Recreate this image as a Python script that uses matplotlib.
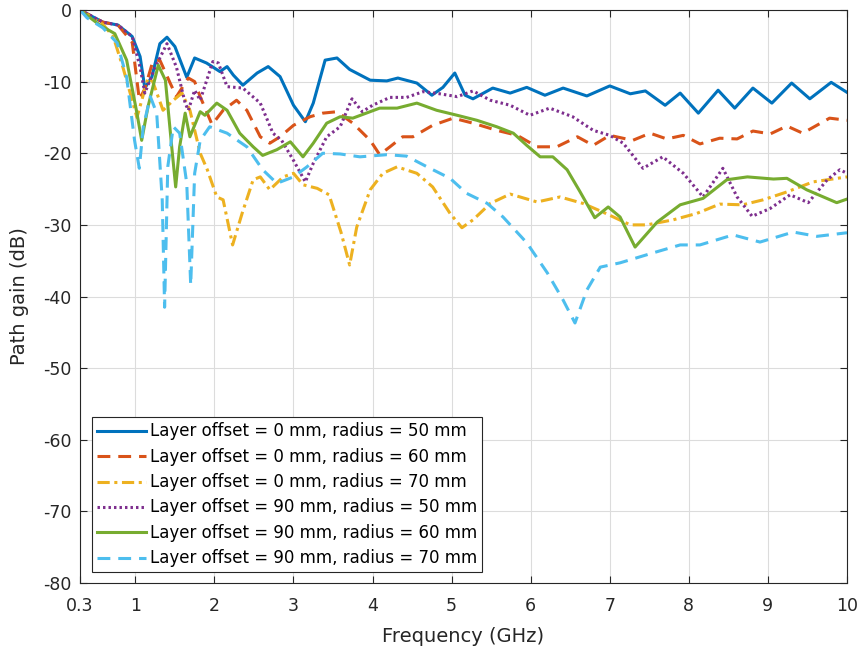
import matplotlib.pyplot as plt

plt.rcParams['font.family'] = ['DejaVu Sans']

# offset 0 mm, radius 50 mm
f_a = [0.3, 0.59, 0.78, 0.96, 1.06, 1.12, 1.21, 1.31, 1.4, 1.5, 1.65, 1.75, 1.9, 2.07, 2.16, 2.24,
       2.36, 2.54, 2.68, 2.83, 3.0, 3.15, 3.25, 3.4, 3.55, 3.71, 3.97, 4.18, 4.32, 4.56, 4.75, 4.89,
       5.04, 5.17, 5.27, 5.52, 5.74, 5.95, 6.18, 6.41, 6.71, 7.0, 7.26, 7.45, 7.7, 7.89, 8.12, 8.37,
       8.58, 8.81, 9.05, 9.3, 9.53, 9.8, 10.0]
g_a = [0, -1.7, -2.1, -3.7, -6.5, -10.9, -9.3, -4.7, -3.8, -5.1, -9.4, -6.7, -7.4, -8.6, -7.9, -9.1,
       -10.5, -8.8, -7.9, -9.3, -13.3, -15.6, -13.0, -7.0, -6.7, -8.3, -9.8, -9.9, -9.5, -10.2, -11.9, -10.8,
       -8.8, -11.9, -12.4, -10.9, -11.6, -10.8, -11.9, -10.9, -12.0, -10.6, -11.7, -11.3, -13.3, -11.6, -14.4, -11.2,
       -13.7, -10.9, -13.0, -10.2, -12.4, -10.1, -11.5]

# offset 0 mm, radius 60 mm
f_b = [0.3, 0.59, 0.78, 0.96, 1.05, 1.12, 1.22, 1.31, 1.44, 1.52, 1.67, 1.75, 1.82, 1.97, 2.11, 2.28,
       2.41, 2.58, 2.7, 2.83, 3.0, 3.21, 3.37, 3.55, 3.75, 3.97, 4.09, 4.22, 4.38, 4.51, 4.76, 5.02,
       5.27, 5.57, 5.83, 6.08, 6.33, 6.59, 6.79, 7.0, 7.29, 7.51, 7.72, 7.93, 8.14, 8.39, 8.61, 8.81,
       9.03, 9.24, 9.44, 9.78, 10.0]
g_b = [0, -1.7, -2.1, -4.5, -12.5, -11.0, -7.2, -7.0, -10.2, -12.1, -9.5, -10.0, -12.1, -16.0, -14.0, -12.6,
       -14.0, -17.7, -18.6, -17.7, -16.1, -14.9, -14.4, -14.2, -15.8, -18.2, -20.2, -19.1, -17.7, -17.7, -16.1, -15.1,
       -15.8, -16.8, -17.5, -19.1, -19.1, -17.7, -18.9, -17.5, -18.2, -17.2, -18.0, -17.5, -18.7, -17.9, -18.0, -16.9,
       -17.3, -16.2, -17.2, -15.1, -15.4]

# offset 0 mm, radius 70 mm
f_c = [0.3, 0.59, 0.72, 0.84, 0.96, 1.02, 1.16, 1.22, 1.35, 1.48, 1.59, 1.69, 1.82, 1.91, 2.03, 2.11,
       2.23, 2.35, 2.49, 2.58, 2.7, 2.87, 3.0, 3.12, 3.3, 3.45, 3.6, 3.71, 3.8, 3.97, 4.13, 4.31,
       4.56, 4.76, 4.98, 5.13, 5.27, 5.49, 5.74, 6.08, 6.37, 6.66, 6.91, 7.26, 7.47, 7.8, 8.1, 8.39,
       8.68, 8.94, 9.24, 9.57, 10.0]
g_c = [0, -2.0, -3.7, -7.9, -12.6, -15.0, -9.5, -10.0, -14.0, -12.6, -11.6, -14.0, -20.0, -22.3, -26.1, -26.5,
       -32.8, -28.4, -23.7, -23.3, -25.1, -23.3, -22.8, -24.4, -24.9, -25.8, -31.0, -35.6, -30.3, -25.1, -22.8, -21.9,
       -22.8, -24.7, -28.4, -30.4, -29.3, -27.0, -25.7, -26.8, -26.1, -27.0, -28.2, -30.0, -30.0, -29.3, -28.4, -27.1,
       -27.2, -26.5, -25.4, -24.0, -23.3]

# offset 90 mm, radius 50 mm
f_d = [0.3, 0.59, 0.78, 0.96, 1.06, 1.12, 1.25, 1.4, 1.52, 1.63, 1.67, 1.75, 1.82, 1.98, 2.05, 2.16,
       2.36, 2.58, 2.74, 2.85, 3.0, 3.15, 3.25, 3.42, 3.59, 3.74, 3.87, 4.0, 4.22, 4.43, 4.64, 4.85,
       5.07, 5.27, 5.49, 5.74, 5.99, 6.24, 6.53, 6.79, 7.0, 7.17, 7.42, 7.67, 7.93, 8.18, 8.43, 8.61,
       8.8, 9.03, 9.28, 9.51, 9.75, 9.91, 10.0]
g_d = [0, -1.7, -2.1, -3.7, -8.0, -11.6, -8.0, -4.7, -8.0, -13.0, -14.0, -11.2, -12.6, -7.2, -7.4, -10.7,
       -10.9, -13.0, -17.2, -18.2, -21.0, -24.0, -21.4, -17.7, -16.3, -12.4, -14.2, -13.3, -12.2, -12.2, -11.4, -11.7,
       -12.1, -11.3, -12.6, -13.3, -14.7, -13.7, -14.9, -16.8, -17.5, -18.6, -22.1, -20.5, -22.8, -26.1, -22.1, -26.1,
       -28.8, -27.7, -25.8, -26.9, -23.7, -22.3, -22.8]

# offset 90 mm, radius 60 mm
f_e = [0.3, 0.55, 0.74, 0.89, 1.02, 1.08, 1.16, 1.29, 1.38, 1.46, 1.51, 1.56, 1.63, 1.69, 1.82, 1.88,
       2.03, 2.16, 2.32, 2.49, 2.61, 2.79, 2.96, 3.12, 3.25, 3.42, 3.59, 3.75, 4.09, 4.31, 4.56, 4.81,
       5.07, 5.32, 5.57, 5.78, 5.95, 6.12, 6.28, 6.46, 6.62, 6.81, 6.98, 7.13, 7.32, 7.6, 7.89, 8.18,
       8.48, 8.74, 9.07, 9.24, 9.49, 9.87, 10.0]
g_e = [0, -2.1, -3.3, -7.0, -14.4, -18.2, -13.5, -7.7, -9.8, -19.1, -24.7, -19.1, -14.4, -17.7, -14.2, -14.7,
       -13.0, -14.0, -17.2, -19.1, -20.3, -19.5, -18.4, -20.5, -18.6, -15.8, -14.9, -15.1, -13.7, -13.7, -13.0, -14.0,
       -14.7, -15.4, -16.3, -17.2, -18.9, -20.5, -20.5, -22.3, -25.3, -29.0, -27.5, -28.9, -33.1, -29.6, -27.2, -26.3,
       -23.7, -23.3, -23.6, -23.5, -25.1, -26.9, -26.4]

# offset 90 mm, radius 70 mm
f_f = [0.3, 0.39, 0.59, 0.77, 0.89, 0.99, 1.05, 1.1, 1.19, 1.27, 1.34, 1.37, 1.41, 1.48, 1.56, 1.65,
       1.7, 1.75, 1.82, 1.94, 2.16, 2.41, 2.61, 2.79, 3.0, 3.17, 3.37, 3.59, 3.84, 4.18, 4.43, 4.69,
       4.98, 5.19, 5.45, 5.65, 5.95, 6.21, 6.41, 6.56, 6.71, 6.88, 7.13, 7.55, 7.89, 8.14, 8.56, 8.9,
       9.32, 9.62, 10.0]
g_f = [0, -1.1, -2.5, -4.6, -9.4, -18.2, -22.1, -16.3, -12.1, -14.4, -26.5, -41.5, -21.9, -16.3, -17.2, -24.2,
       -38.4, -22.8, -18.2, -16.3, -17.2, -19.1, -22.3, -24.2, -23.3, -21.9, -20.0, -20.1, -20.5, -20.2, -20.4, -21.9,
       -23.5, -25.6, -27.0, -28.9, -32.5, -36.7, -40.5, -43.7, -39.1, -35.9, -35.3, -33.9, -32.8, -32.8, -31.4, -32.4,
       -31.0, -31.6, -31.1]

labels = ['Layer offset = 0 mm, radius = 50 mm',
          'Layer offset = 0 mm, radius = 60 mm',
          'Layer offset = 0 mm, radius = 70 mm',
          'Layer offset = 90 mm, radius = 50 mm',
          'Layer offset = 90 mm, radius = 60 mm',
          'Layer offset = 90 mm, radius = 70 mm']

fig = plt.figure(figsize=(8.6, 6.58), dpi=100)
ax = fig.add_axes([80 / 860, 1 - 583 / 658, 767 / 860, 573 / 658])

ax.plot(f_a, g_a, color='#0072BD', lw=2.2, ls='-', label=labels[0])
ax.plot(f_b, g_b, color='#D95319', lw=2.2, ls=(0, (4.2, 2.6)), label=labels[1])
ax.plot(f_c, g_c, color='#EDB120', lw=2.2, ls=(0, (4, 1.5, 1, 1.5)), label=labels[2])
ax.plot(f_d, g_d, color='#7E2F8E', lw=2.2, ls=(0, (0.8, 1.0)), label=labels[3])
ax.plot(f_e, g_e, color='#77AC30', lw=2.2, ls='-', label=labels[4])
ax.plot(f_f, g_f, color='#4DBEEE', lw=2.2, ls=(0, (4.2, 2.6)), label=labels[5])

ax.set_xlim(0.3, 10)
ax.set_ylim(-80, 0)
ax.set_xticks([0.3, 1, 2, 3, 4, 5, 6, 7, 8, 9, 10])
ax.set_xticklabels(['0.3', '1', '2', '3', '4', '5', '6', '7', '8', '9', '10'])
ax.set_yticks(range(-80, 1, 10))
ax.set_yticklabels([str(v) for v in range(-80, 1, 10)])
ax.tick_params(direction='in', labelsize=12.5, length=5, colors='#262626', top=True, right=True)
ax.tick_params(axis='x', pad=10)
ax.tick_params(axis='y', pad=6)
ax.grid(True, color='#dcdcdc', lw=0.8)
for s in ax.spines.values():
    s.set_color('#262626')
    s.set_linewidth(0.8)

ax.set_xlabel('Frequency (GHz)', fontsize=14, color='#262626', labelpad=9)
ax.set_ylabel('Path gain (dB)', fontsize=14, color='#262626', labelpad=10)

leg = ax.legend(loc='lower left', bbox_to_anchor=(0.016, 0.019), borderaxespad=0, fontsize=12,
                handlelength=2.9, labelspacing=0.44, fancybox=False, framealpha=1, borderpad=0.3,
                handletextpad=0.25, handleheight=0.6)
leg.get_frame().set_edgecolor('#262626')
leg.get_frame().set_linewidth(0.8)

fig.savefig('out.png', dpi=100)
